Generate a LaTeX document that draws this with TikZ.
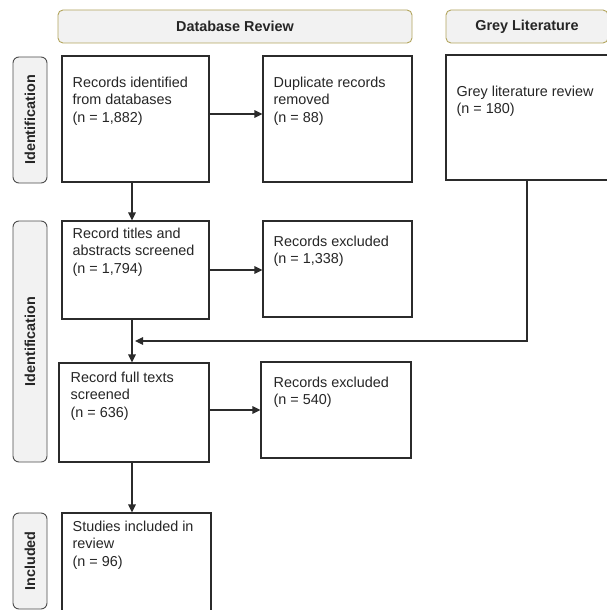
\documentclass[tikz,border=0pt]{standalone}
\usepackage{fontspec}
\setmainfont{Liberation Sans}
\usepackage{tikz}
\usetikzlibrary{arrows.meta}
\definecolor{headfill}{HTML}{F2F2F2}
\definecolor{headline}{HTML}{B3A55E}
\definecolor{sideline}{HTML}{4D4D4D}
\definecolor{boxline}{HTML}{2B2B2B}
\definecolor{txtcol}{HTML}{262626}
\tikzstyle{arrow} = [line width=1.2pt,->,>={Triangle[length=8pt,width=7.5pt]},draw=boxline]
\tikzstyle{box} = [draw=boxline,line width=1.1pt,inner sep=0pt]
\tikzstyle{txt} = [anchor=north west,align=left,inner sep=0pt,text=txtcol,font=\fontsize{14.4}{17.5}\selectfont]
\tikzstyle{head} = [draw=headline,fill=headfill,line width=0.9pt,rounded corners=5pt,text=txtcol,font=\fontsize{14.4}{17}\selectfont\bfseries]
\tikzstyle{side} = [draw=sideline,fill=headfill,line width=0.9pt,rounded corners=6pt,rotate=90,minimum height=34pt,text=txtcol,font=\fontsize{14.4}{17}\selectfont\bfseries]

\begin{document}
\begin{tikzpicture}[x=1pt,y=-1pt]

\clip (0,0) rectangle (607,610);
\fill [white] (0,0) rectangle (607,610);

% column headers
\node (dbhead) [head,minimum width=354pt,minimum height=33pt] at (235,26.5) {Database Review};
\node (greyhead) [head,minimum width=162pt,minimum height=33pt] at (527,26.5) {Grey Literature};

% phase labels
\node (phase1) [side,minimum width=126pt] at (30,120) {Identification};
\node (phase2) [side,minimum width=241pt] at (30,341.5) {Identification};
\node (phase3) [side,minimum width=96pt] at (30,561) {Included};

% boxes
\node (ident) [box,minimum width=147pt,minimum height=126pt] at (135.5,119) {};
\node (dup) [box,minimum width=149pt,minimum height=126pt] at (337.5,119) {};
\node (grey) [box,minimum width=162pt,minimum height=125pt] at (527,117.5) {};
\node (screen) [box,minimum width=147pt,minimum height=98pt] at (135.5,270) {};
\node (excl1) [box,minimum width=149pt,minimum height=96pt] at (337.5,269) {};
\node (full) [box,minimum width=150pt,minimum height=99pt] at (134,412.5) {};
\node (excl2) [box,minimum width=150pt,minimum height=96pt] at (336,410) {};
\node (incl) [box,minimum width=149pt,minimum height=110pt] at (136.5,568) {};

% box texts
\node [txt,xshift=11pt,yshift=-21pt] at (ident.north west) {Records identified\\from databases\\(n = 1,882)};
\node [txt,xshift=11pt,yshift=-21pt] at (dup.north west) {Duplicate records\\removed\\(n = 88)};
\node [txt,xshift=11pt,yshift=-31pt] at (grey.north west) {Grey literature review\\(n = 180)};
\node [txt,xshift=11pt,yshift=-7pt] at (screen.north west) {Record titles and\\abstracts screened\\(n = 1,794)};
\node [txt,xshift=11pt,yshift=-15pt] at (excl1.north west) {Records excluded\\(n = 1,338)};
\node [txt,xshift=12pt,yshift=-9pt] at (full.north west) {Record full texts\\screened\\(n = 636)};
\node [txt,xshift=13pt,yshift=-15pt] at (excl2.north west) {Records excluded\\(n = 540)};
\node [txt,xshift=11pt,yshift=-8pt] at (incl.north west) {Studies included in\\review\\(n = 96)};

\coordinate (join) at (132,341);

% connectors
\draw [arrow] ([yshift=5pt]ident.east) -- ([yshift=5pt]ident.east -| dup.west);
\draw [arrow] ([xshift=-3.5pt]ident.south) -- ([xshift=-3.5pt]ident.south |- screen.north);
\draw [arrow] (screen.east) -- (screen.east -| excl1.west);
\draw [arrow] ([xshift=-3.5pt]screen.south) -- ([xshift=-3.5pt]screen.south |- full.north);
\draw [arrow] (grey.south) |- ([xshift=3pt]join);
\draw [arrow] ([yshift=2.5pt]full.east) -- ([yshift=2.5pt]full.east -| excl2.west);
\draw [arrow] ([xshift=-2pt]full.south) -- ([xshift=-2pt]full.south |- incl.north);

\end{tikzpicture}
\end{document}
